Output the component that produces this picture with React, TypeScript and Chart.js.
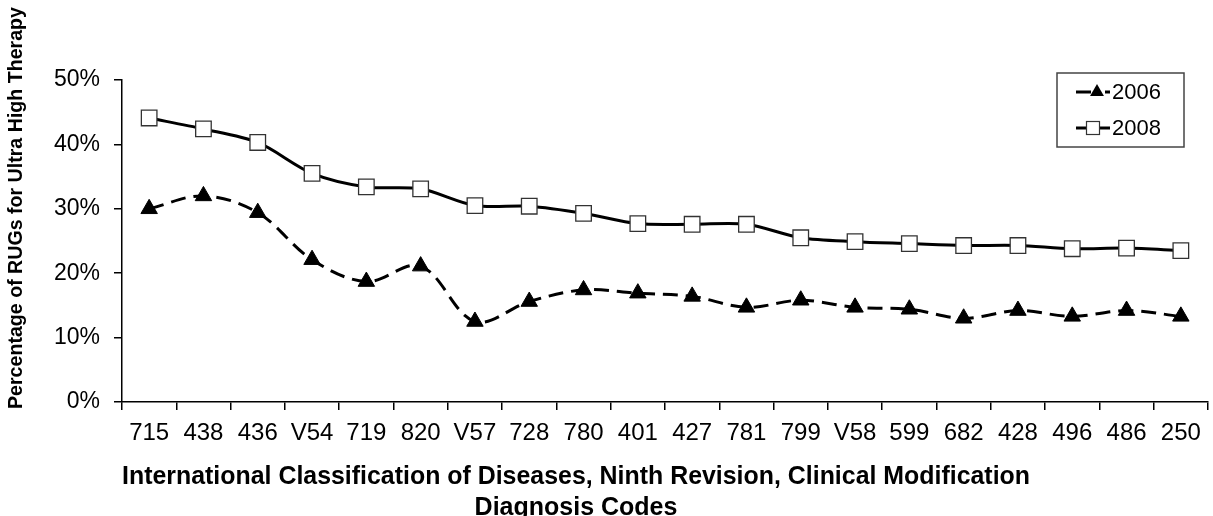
import React, { useEffect, useRef } from "react";
import { Chart, registerables } from "chart.js";

Chart.register(...registerables);

const categories = ["715", "438", "436", "V54", "719", "820", "V57", "728", "780", "401", "427", "781", "799", "V58", "599", "682", "428", "496", "486", "250"];
const values2006 = [30.0, 32.0, 29.4, 22.1, 18.7, 21.1, 12.5, 15.6, 17.4, 16.9, 16.4, 14.7, 15.8, 14.7, 14.4, 13.0, 14.2, 13.3, 14.2, 13.3];
const values2008 = [44.1, 42.4, 40.3, 35.5, 33.4, 33.1, 30.5, 30.4, 29.3, 27.7, 27.6, 27.6, 25.5, 24.9, 24.6, 24.3, 24.3, 23.8, 23.9, 23.5];
const seriesNames = ["2006", "2008"];
const yTitle = "Percentage of RUGs for Ultra High Therapy";
const xTitleLines = ["International Classification of Diseases, Ninth Revision, Clinical Modification", "Diagnosis Codes"];

const FONT = "'Liberation Sans', Arial, sans-serif";

const decorPlugin = {
  id: "decor",
  afterDraw(chart: any) {
    const { ctx, chartArea } = chart;
    ctx.save();
    // Legend box
    const w = 127, h = 74;
    const right = chartArea.right - 24;
    const top = chartArea.top - 7;
    const left = right - w;
    ctx.fillStyle = "#fff";
    ctx.fillRect(left, top, w, h);
    ctx.strokeStyle = "#444";
    ctx.lineWidth = 1.5;
    ctx.strokeRect(left, top, w, h);
    chart.data.datasets.forEach((ds: any, i: number) => {
      const y = top + 19 + i * 36;
      const x0 = left + 19;
      ctx.strokeStyle = "#000";
      ctx.lineWidth = 3;
      ctx.setLineDash([]);
      ctx.beginPath();
      if (ds.borderDash && ds.borderDash.length) {
        ctx.moveTo(x0, y); ctx.lineTo(x0 + 15, y);
        ctx.moveTo(x0 + 29, y); ctx.lineTo(x0 + 34, y);
      } else {
        ctx.moveTo(x0, y); ctx.lineTo(x0 + 34, y);
      }
      ctx.stroke();
      const mx = ds.pointStyle === "triangle" ? x0 + 21 : x0 + 17;
      ctx.lineWidth = 1.2;
      if (ds.pointStyle === "triangle") {
        const r = 8;
        ctx.beginPath();
        ctx.moveTo(mx, y - r);
        ctx.lineTo(mx + 0.866 * r, y + r / 2);
        ctx.lineTo(mx - 0.866 * r, y + r / 2);
        ctx.closePath();
        ctx.fillStyle = "#000";
        ctx.fill();
      } else {
        const s = 13;
        ctx.fillStyle = "#fff";
        ctx.fillRect(mx - s / 2, y - s / 2, s, s);
        ctx.strokeStyle = "#333";
        ctx.strokeRect(mx - s / 2, y - s / 2, s, s);
      }
      ctx.fillStyle = "#000";
      ctx.font = `22px ${FONT}`;
      ctx.textAlign = "left";
      ctx.textBaseline = "middle";
      ctx.fillText(ds.label, x0 + 36, y + 1);
    });
    // X title
    ctx.fillStyle = "#000";
    ctx.textAlign = "center";
    ctx.textBaseline = "middle";
    ctx.font = `bold 25px ${FONT}`;
    const cx = chartArea.left + 454;
    ctx.fillText(xTitleLines[0], cx, chartArea.bottom + 75, 908);
    ctx.fillText(xTitleLines[1], cx, chartArea.bottom + 106);
    // Y title
    ctx.font = `bold 21px ${FONT}`;
    ctx.translate(16, chartArea.top + 128);
    ctx.rotate(-Math.PI / 2);
    ctx.fillText(yTitle, 0, 0, 402);
    ctx.restore();
  },
};

export default function App() {
  const ref = useRef<HTMLCanvasElement>(null);
  useEffect(() => {
    document.body.style.margin = "0";
    const chart = new Chart(ref.current as HTMLCanvasElement, {
      type: "line",
      data: {
        labels: categories,
        datasets: [
          {
            label: seriesNames[0],
            data: values2006,
            borderColor: "#000",
            borderWidth: 3,
            borderDash: [15, 8],
            pointStyle: "triangle",
            pointRadius: 9.5,
            pointBackgroundColor: "#000",
            pointBorderColor: "#000",
            pointBorderWidth: 1,
            tension: 0.35,
            fill: false,
          },
          {
            label: seriesNames[1],
            data: values2008,
            borderColor: "#000",
            borderWidth: 3,
            pointStyle: "rect",
            pointRadius: 11,
            pointBackgroundColor: "#fff",
            pointBorderColor: "#333",
            pointBorderWidth: 1.3,
            tension: 0.3,
            fill: false,
          },
        ],
      },
      options: {
        animation: false,
        responsive: false,
        layout: { autoPadding: false, padding: { top: 80, right: 5, left: 0, bottom: 0 } },
        plugins: { legend: { display: false }, tooltip: { enabled: false } },
        scales: {
          x: {
            offset: true,
            grid: { offset: true, drawOnChartArea: false, tickLength: 8, tickColor: "#000", lineWidth: 1.5 },
            border: { display: true, color: "#000", width: 1.5 },
            ticks: { color: "#000", font: { family: FONT, size: 24 }, padding: 9, maxRotation: 0, autoSkip: false },
            afterFit: (s: any) => { s.height = 114; s.paddingRight = 0; s.paddingLeft = 0; },
          },
          y: {
            min: 0,
            max: 50,
            grid: { drawOnChartArea: false, tickLength: 8, tickColor: "#000", lineWidth: 1.5 },
            border: { display: true, color: "#000", width: 1.5 },
            ticks: { stepSize: 10, color: "#000", font: { family: FONT, size: 23 }, padding: 14, callback: (v: any) => `${v}%` },
            afterFit: (s: any) => { s.width = 122; s.paddingTop = 0; s.paddingBottom = 0; },
          },
        },
      },
      plugins: [decorPlugin],
    });
    return () => chart.destroy();
  }, []);
  return (
    <div style={{ width: 1213, height: 516, background: "#fff" }}>
      <canvas ref={ref} width={1213} height={516} style={{ display: "block" }} />
    </div>
  );
}
